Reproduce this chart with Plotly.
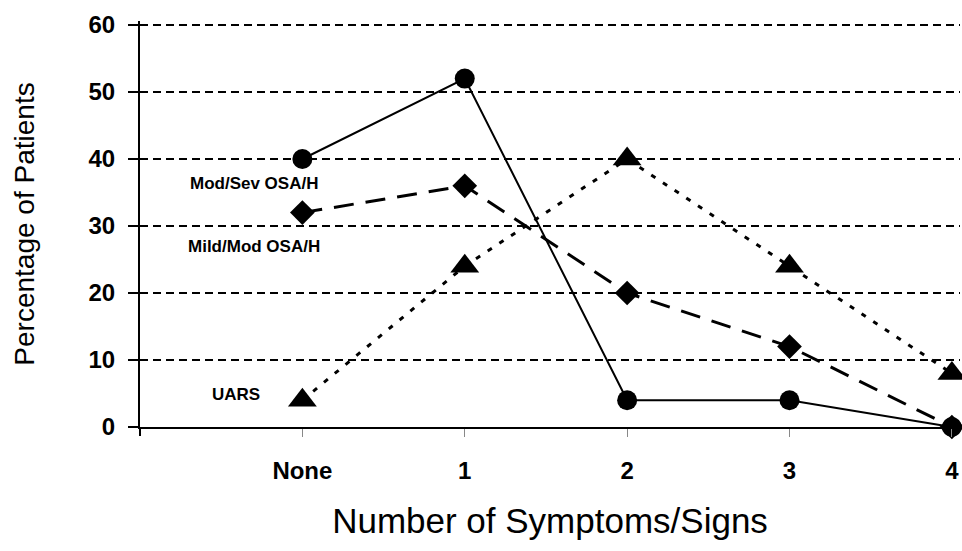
import plotly.graph_objects as go

categories = ["None", "1", "2", "3", "4"]
x_pos = [0, 1, 2, 3, 4]
circle_series = [40, 52, 4, 4, 0]
diamond_series = [32, 36, 20, 12, 0]
triangle_series = [4, 24, 40, 24, 8]
y_ticks = [0, 10, 20, 30, 40, 50, 60]

label_names = ["Mod/Sev OSA/H", "Mild/Mod OSA/H", "UARS"]
label_x = [-0.3, -0.3, -0.41]
label_y = [36.3, 27.0, 4.8]

FONT = "Liberation Sans, Arial, sans-serif"

fig = go.Figure()
fig.add_trace(go.Scatter(x=x_pos, y=circle_series, mode="lines+markers",
                         line=dict(color="black", width=2, dash="solid"),
                         marker=dict(symbol="circle", size=20, color="black"),
                         cliponaxis=False, showlegend=False))
fig.add_trace(go.Scatter(x=x_pos, y=diamond_series, mode="lines+markers",
                         line=dict(color="black", width=3, dash="20px,12px"),
                         marker=dict(symbol="diamond", size=19, color="black"),
                         cliponaxis=False, showlegend=False))
fig.add_trace(go.Scatter(x=x_pos, y=triangle_series, mode="lines+markers",
                         line=dict(color="black", width=3, dash="5px,9px"),
                         marker=dict(symbol="triangle-up", size=25, color="black"),
                         cliponaxis=False, showlegend=False))

for t, ax_, ay_ in zip(label_names, label_x, label_y):
    fig.add_annotation(x=ax_, y=ay_, text="<b>" + t + "</b>", showarrow=False,
                       font=dict(family=FONT, size=17, color="black"))

# y-axis line extension below the x-axis
fig.add_shape(type="line", xref="paper", yref="paper", x0=0, x1=0, y0=0, y1=-0.022,
              line=dict(color="black", width=2))

fig.update_layout(
    width=962, height=551,
    margin=dict(l=140, r=2, t=21, b=124, autoexpand=False),
    plot_bgcolor="white", paper_bgcolor="white",
    font=dict(family=FONT, color="black"),
)
fig.update_xaxes(
    range=[-1.0, 4.05], tickvals=x_pos, ticktext=["<b>%s</b>" % c for c in categories],
    tickfont=dict(size=24),
    ticks="outside", ticklen=8, tickcolor="#888", tickwidth=1,
    ticklabelstandoff=13,
    showline=True, linecolor="black", linewidth=2,
    showgrid=False, zeroline=False, automargin=False,
    title=dict(text="Number of Symptoms/Signs", font=dict(size=35), standoff=26),
)
fig.update_yaxes(
    range=[0, 60.6], tickvals=y_ticks, ticktext=["<b>%d</b>" % v for v in y_ticks],
    tickfont=dict(size=24),
    ticks="outside", ticklen=10, tickcolor="black", tickwidth=1.5,
    ticklabelstandoff=8,
    showline=True, linecolor="black", linewidth=2,
    showgrid=True, gridcolor="black", griddash="8px,5px", gridwidth=1.5,
    zeroline=False, automargin=False,
    title=dict(text="Percentage of Patients", font=dict(size=28), standoff=46),
)

fig.write_html("out.html", config={"displayModeBar": False},
               post_script="document.body.style.margin='0px';")
